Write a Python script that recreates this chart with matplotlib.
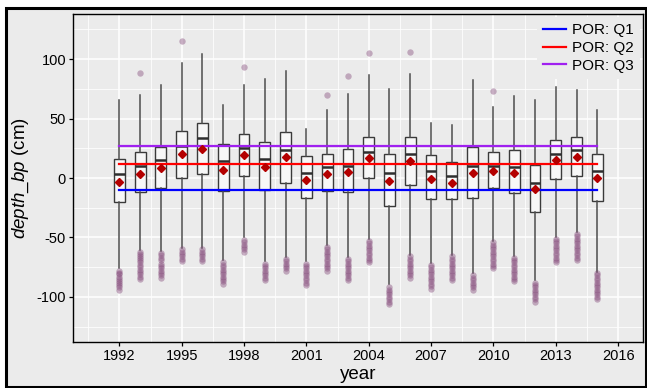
import matplotlib
matplotlib.use("Agg")
import numpy as np
import matplotlib.pyplot as plt
from matplotlib.patches import Rectangle

plt.rcParams['font.family'] = ['Liberation Sans', 'DejaVu Sans']
plt.rcParams['mathtext.fontset'] = 'custom'
plt.rcParams['mathtext.it'] = 'Liberation Sans:italic'
plt.rcParams['mathtext.rm'] = 'Liberation Sans'
plt.rcParams['axes.unicode_minus'] = False

#%% yearly depth_bp summaries (cm)
years = list(range(1992, 2016))
whisker_hi = [66.0, 69.7, 78.0, 96.6, 104.2, 61.3, 78.1, 83.2, 89.9, 41.4, 56.8, 70.3,
              86.3, 74.8, 87.7, 45.9, 45.0, 82.3, 59.4, 69.1, 65.5, 76.7, 73.9, 57.1]
q3 = [16.4, 21.5, 26.2, 39.4, 45.9, 28.2, 37.2, 30.4, 39.1, 18.6, 20.3, 24.3,
      34.6, 20.6, 34.1, 19.2, 13.6, 26.0, 22.0, 23.2, 11.1, 31.6, 34.1, 20.6]
median = [3.2, 10.0, 15.0, 27.0, 33.5, 14.4, 25.1, 16.1, 23.4, 4.4, 8.9, 10.2,
          21.7, 4.4, 20.1, 5.5, 1.8, 10.2, 9.7, 9.4, -4.3, 19.8, 23.7, 5.8]
q1 = [-20.3, -11.6, -8.8, -0.4, 3.3, -11.1, 1.8, -10.5, -3.8, -17.2, -11.1, -12.2,
      0.1, -23.7, -6.3, -17.8, -17.8, -17.2, -8.0, -13.0, -28.5, -1.2, 1.8, -19.7]
whisker_lo = [-76.0, -60.7, -61.6, -58.5, -58.5, -69.0, -50.0, -70.0, -66.3, -70.0, -56.0, -66.3,
              -51.7, -89.6, -64.9, -71.4, -64.9, -80.3, -52.9, -65.5, -86.0, -49.5, -45.8, -79.0]
mean = [-3.5, 3.5, 8.0, 20.0, 24.8, 6.6, 19.5, 9.1, 17.3, -1.3, 3.5, 4.9,
        16.7, -2.4, 14.2, -1.0, -3.8, 3.8, 5.5, 3.8, -9.6, 14.8, 17.5, -0.4]

upper_out = [[], [88.7], [], [115.7], [], [], [93.5], [], [], [], [70.0], [86.0],
             [105.0], [], [105.9], [], [], [], [73.3], [], [], [94.4], [88.8], []]
lower_out = [
    [-78, -80, -81, -83, -85, -87, -88, -90, -92, -94],
    [-62, -64, -66, -67, -69, -71, -73, -75, -77, -79, -81, -83, -85],
    [-63, -65, -67, -69, -72, -74, -76, -78, -80, -82, -84],
    [-60, -62, -64, -66, -68, -70],
    [-60, -62, -64, -66, -68, -70],
    [-71, -73, -75, -77, -79, -81, -83, -85, -87, -89],
    [-52, -54, -56, -58, -60, -62],
    [-72, -74, -76, -78, -80, -82, -84, -86],
    [-68, -70, -72, -74, -76, -78],
    [-72, -74, -76, -78, -80, -82, -84, -86, -88, -90],
    [-58, -60, -62, -64, -66, -68, -70, -72, -74, -76, -78],
    [-68, -70, -72, -74, -76, -78, -80, -82, -84, -86],
    [-53, -55, -57, -59, -61, -63, -65, -67, -69, -71],
    [-92, -94, -96, -98, -100, -102, -104, -106],
    [-66, -68, -70, -72, -74, -76, -78, -80, -82, -84],
    [-73, -75, -77, -79, -81, -83, -85, -87, -89, -91, -93],
    [-66, -68, -70, -72, -74, -76, -78, -80, -82, -84, -86],
    [-82, -84, -86, -88, -90, -92, -94],
    [-54, -56, -58, -60, -62, -64, -66, -68, -70, -72, -74, -76],
    [-67, -69, -71, -73, -75, -77, -79, -81, -83, -85, -87],
    [-88, -90, -92, -94, -96, -98, -100, -102, -104],
    [-51, -53, -55, -57, -59, -61, -63, -65, -67, -69, -71],
    [-47, -49, -51, -53, -55, -57, -59, -61, -63, -65, -67, -69],
    [-80, -82, -84, -86, -88, -90, -92, -94, -96, -98, -100, -102],
]

# period-of-record quartiles
por_q = [-10.2, 11.9, 26.8]
por_labels = ['POR: Q1', 'POR: Q2', 'POR: Q3']
por_colors = ['#0000ff', '#ff0000', '#a020f0']

#%%
bg = '#ebebeb'
fig = plt.figure(figsize=(6.47, 3.88), dpi=100)
fig.patch.set_facecolor('white')
fig.add_artist(Rectangle((5.5 / 647, 1.5 / 388), 640 / 647, 378.5 / 388,
                         transform=fig.transFigure, facecolor=bg, edgecolor='black',
                         lw=2.2, zorder=-1))

ax = fig.add_axes([73 / 647, 46 / 388, 570 / 647, 328 / 388])
ax.set_facecolor(bg)

stats = [dict(whislo=whisker_lo[i], q1=q1[i], med=median[i], q3=q3[i],
              whishi=whisker_hi[i], fliers=[]) for i in range(len(years))]
ax.bxp(stats, positions=years, widths=0.52, showfliers=False, showcaps=False,
       patch_artist=True, manage_ticks=False,
       boxprops=dict(facecolor='#f7f7f7', edgecolor='#3a3a3a', lw=1.0),
       medianprops=dict(color='#2e2e2e', lw=1.8),
       whiskerprops=dict(color='#4d4d4d', lw=1.1))

# outliers
for i, yr in enumerate(years):
    pts = upper_out[i] + lower_out[i]
    if pts:
        ax.plot([yr] * len(pts), pts, 'o', color='#84497a', alpha=0.42, ms=4.6,
                mec='none', zorder=3)

for q, lab, c in zip(por_q, por_labels, por_colors):
    ax.plot([years[0], years[-1]], [q, q], color=c, lw=1.6, label=lab, zorder=4)

ax.plot(years, mean, 'D', color='#b40000', ms=4.2, mec='#b40000', zorder=5)

ax.set_xlim(1989.77, 2017.2)
ax.set_ylim(-138, 138)
ax.set_xticks(range(1992, 2017, 3))
ax.set_xticks(np.arange(1990.5, 2017, 3), minor=True)
ax.set_yticks([-100, -50, 0, 50, 100])
ax.set_yticks([-125, -75, -25, 25, 75, 125], minor=True)
ax.set_axisbelow(True)
ax.grid(which='major', color='white', lw=1.1)
ax.grid(which='minor', color='white', lw=0.55)
ax.tick_params(which='major', direction='out', length=3, width=0.9, color='black',
               labelsize=10.5, labelcolor='black', pad=2)
ax.tick_params(which='minor', length=0)
for s in ax.spines.values():
    s.set_color('black')
    s.set_linewidth(1.0)

ax.set_xlabel('year', fontsize=13.5, labelpad=2)
ax.set_ylabel(r'$\mathit{depth\_bp}$ (cm)', fontsize=13.5, labelpad=4)

leg = ax.legend(loc='upper right', fontsize=11, frameon=True, facecolor=bg,
                edgecolor='none', framealpha=1, fancybox=False, handlelength=1.5,
                handletextpad=0.4, borderaxespad=0.2, labelspacing=0.25)
leg.set_zorder(10)

fig.savefig('out.png', dpi=100, facecolor=fig.get_facecolor())
